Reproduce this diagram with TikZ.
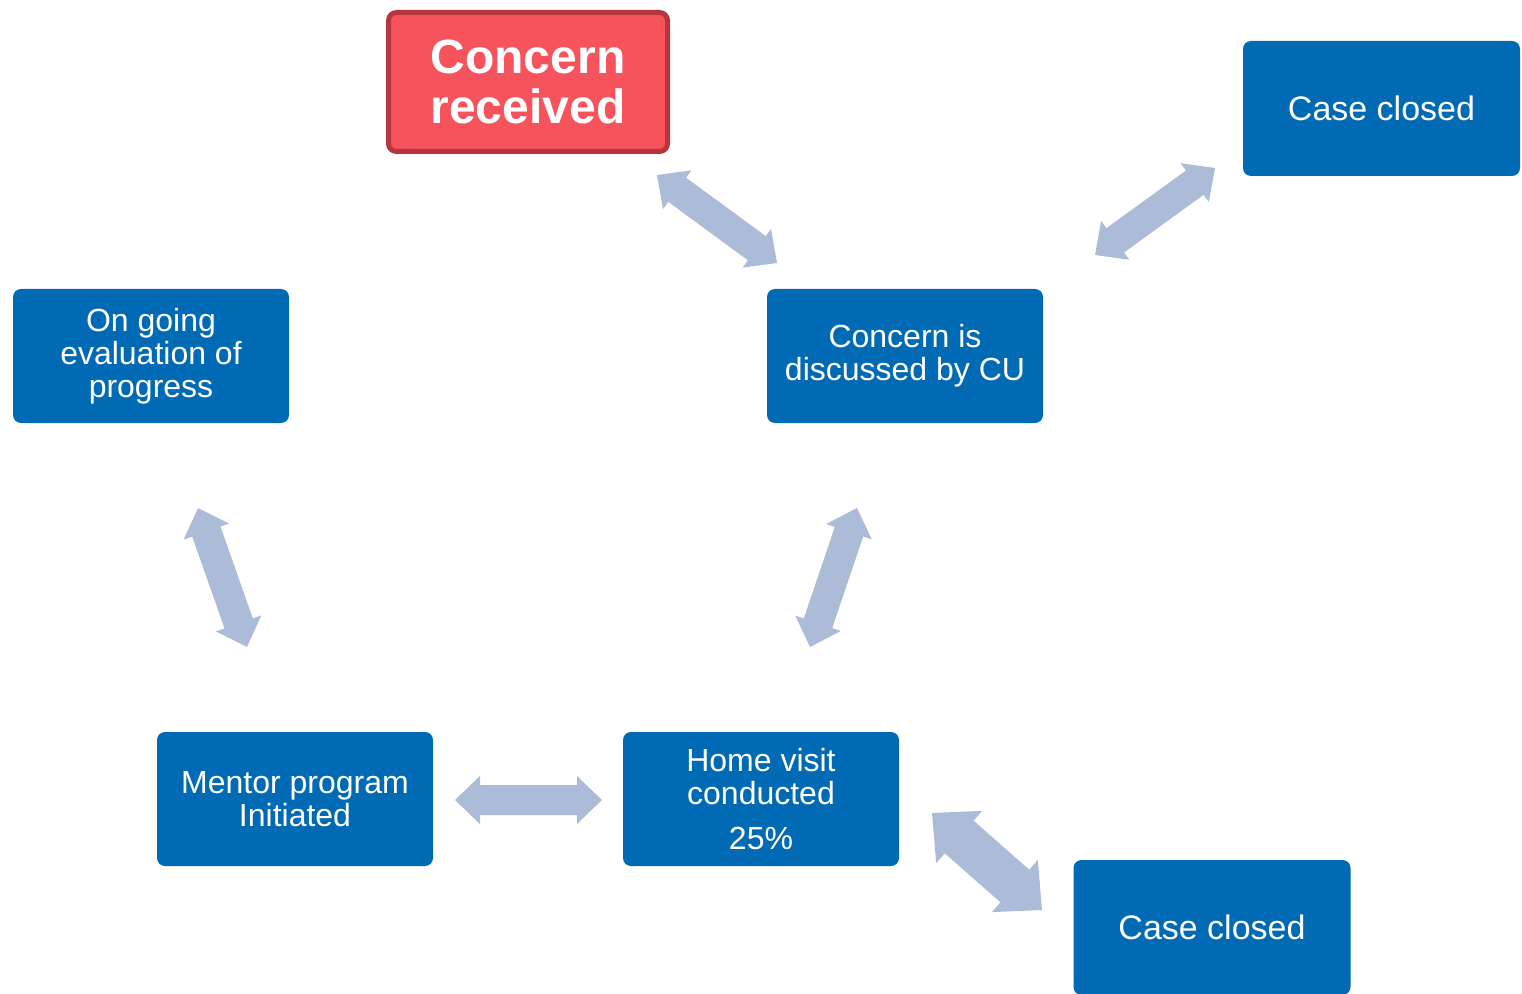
\documentclass[tikz,border=0pt]{standalone}
\usepackage{fontspec}
\setmainfont{Liberation Sans}
\usetikzlibrary{calc}

% fat double arrow from tip #2 to tip #3, #1 scales head and shaft
\newcommand{\dblarrow}[3][1]{%
  \pgfmathsetmacro\hl{#1*12.5}%
  \pgfmathsetmacro\hw{#1*12}%
  \pgfmathsetmacro\sw{#1*7.5}%
  \fill[arrowfill] (#2)
    -- ($(#2)!\hl pt!(#3)!\hw pt!90:(#3)$)
    -- ($(#2)!\hl pt!(#3)!\sw pt!90:(#3)$)
    -- ($(#3)!\hl pt!(#2)!\sw pt!-90:(#2)$)
    -- ($(#3)!\hl pt!(#2)!\hw pt!-90:(#2)$)
    -- (#3)
    -- ($(#3)!\hl pt!(#2)!\hw pt!90:(#2)$)
    -- ($(#3)!\hl pt!(#2)!\sw pt!90:(#2)$)
    -- ($(#2)!\hl pt!(#3)!\sw pt!-90:(#3)$)
    -- ($(#2)!\hl pt!(#3)!\hw pt!-90:(#3)$)
    -- cycle;}

\begin{document}
\begin{tikzpicture}[x=1pt,y=1pt,
  stepbox/.style={rectangle,rounded corners=4pt,fill=boxColor,text=white,
    minimum width=138pt,minimum height=67pt,align=center,inner sep=2pt,
    font=\fontsize{16}{16.5}\selectfont},
  startbox/.style={stepbox,fill=startColor,draw=startEdge,line width=2.5pt,
    minimum width=139.5pt,minimum height=69.5pt,
    font=\fontsize{24}{25}\selectfont\bfseries},
  closedbox/.style={stepbox,minimum width=138.5pt,minimum height=67.5pt,
    font=\fontsize{17}{18}\selectfont},
  arrowfill/.style={fill=arrowColor}]
\definecolor{boxColor}{RGB}{0,106,180}
\definecolor{startColor}{RGB}{247,83,92}
\definecolor{startEdge}{RGB}{181,55,61}
\definecolor{arrowColor}{RGB}{171,187,216}
\path[use as bounding box,fill=white] (0,0) rectangle (761,496.5);
\begin{scope}
\path[clip] (0,0) rectangle (761,496.5);

\node[startbox] (recv) at (264,455.5) {Concern\\received};
\node[closedbox] (closedtop) at (690.75,442.25) {Case closed};
\node[stepbox] (eval) at (75.5,318.5) {On going\\evaluation of\\progress};
\node[stepbox] (disc) at (452.5,318.5) {Concern is\\discussed by CU};
\node[stepbox] (mentor) at (147.5,97) {Mentor program\\Initiated};
\node[stepbox] (visit) at (380.5,97) {Home visit\\conducted\\[6pt]25\%};
\node[closedbox] (closedbot) at (606,32.75) {Case closed};
\end{scope}

\begin{scope}
\coordinate (recv-a) at (328.5,409);
\coordinate (disc-a) at (388.5,365);
\coordinate (closed-a) at (607.5,412.5);
\coordinate (disc-b) at (547.5,369);
\coordinate (eval-a) at (99,242.5);
\coordinate (mentor-a) at (123.5,173);
\coordinate (disc-c) at (428.5,242.5);
\coordinate (visit-a) at (405,173);
\coordinate (mentor-b) at (227.5,96.5);
\coordinate (visit-b) at (301,96.5);
\coordinate (visit-c) at (466,90);
\coordinate (closed-b) at (521,41.5);

\dblarrow{recv-a}{disc-a}
\dblarrow{closed-a}{disc-b}
\dblarrow{eval-a}{mentor-a}
\dblarrow{disc-c}{visit-a}
\dblarrow{mentor-b}{visit-b}
\dblarrow[1.45]{visit-c}{closed-b}
\end{scope}
\end{tikzpicture}
\end{document}
